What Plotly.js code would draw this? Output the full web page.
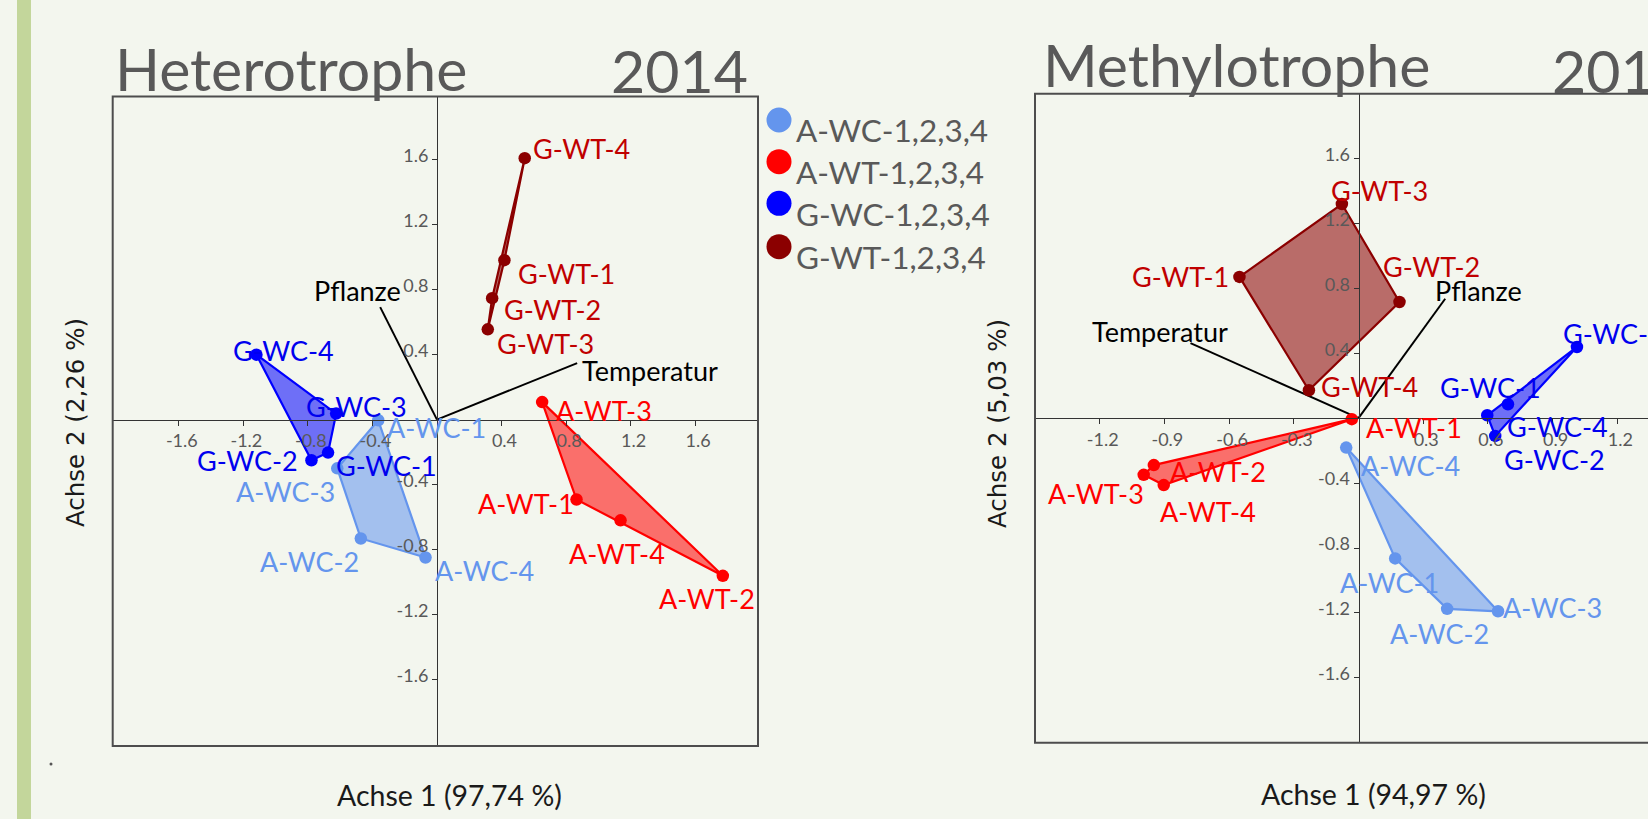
<!DOCTYPE html>
<html><head><meta charset="utf-8">
<script src="https://cdn.plot.ly/plotly-3.0.1.min.js"></script>
<style>html,body{margin:0;padding:0;overflow:hidden;background:#F3F6EE;}#chart{width:1700px;height:819px;}</style>
</head><body><div id="chart"></div>
<script>
// ---------------- DATA ----------------
const groupNames = ['A-WC', 'A-WT', 'G-WC', 'G-WT'];
const legendLabels = ['A-WC-1,2,3,4', 'A-WT-1,2,3,4', 'G-WC-1,2,3,4', 'G-WT-1,2,3,4'];
const replicates = ['1', '2', '3', '4'];
const panelTitles = ['Heterotrophe', 'Methylotrophe'];
const panelYear = '2014';
const axisTitlesX = ['Achse 1 (97,74 %)', 'Achse 1 (94,97 %)'];
const axisTitlesY = ['Achse 2 (2,26 %)', 'Achse 2 (5,03 %)'];
const vectorNames = ['Pflanze', 'Temperatur'];

// Heterotrophe 2014 (replicates 1..4)
const hetAWCx = [-0.364, -0.472, -0.618, -0.071];
const hetAWCy = [-0.004, -0.732, -0.300, -0.849];
const hetAWTx = [0.865, 1.772, 0.652, 1.138];
const hetAWTy = [-0.492, -0.962, 0.108, -0.620];
const hetGWCx = [-0.675, -0.778, -0.625, -1.119];
const hetGWCy = [-0.203, -0.250, 0.037, 0.400];
const hetGWTx = [0.418, 0.342, 0.315, 0.544];
const hetGWTy = [0.982, 0.748, 0.556, 1.610];
const hetVecX = [-0.352, 0.869];
const hetVecY = [0.693, 0.348];

// Methylotrophe 2014 (replicates 1..4)
const metAWCx = [0.170, 0.411, 0.647, -0.057];
const metAWCy = [-0.864, -1.175, -1.190, -0.181];
const metAWTx = [-0.031, -0.949, -0.996, -0.903];
const metAWTy = [-0.006, -0.289, -0.349, -0.412];
const metGWCx = [0.693, 0.634, 1.013, 0.597];
const metGWCy = [0.086, -0.109, 0.439, 0.018];
const metGWTx = [-0.552, 0.190, -0.077, -0.230];
const metGWTy = [0.871, 0.716, 1.320, 0.172];
const metVecX = [0.402, -0.779];
const metVecY = [0.736, 0.463];

// Tick values / labels
const hetTickX = [-1.6, -1.2, -0.8, -0.4, 0.4, 0.8, 1.2, 1.6];
const hetTickY = [-1.6, -1.2, -0.8, -0.4, 0.4, 0.8, 1.2, 1.6];
const metTickX = [-1.2, -0.9, -0.6, -0.3, 0.3, 0.6, 0.9, 1.2];
const metTickY = [-1.6, -1.2, -0.8, -0.4, 0.4, 0.8, 1.2, 1.6];

// ---------------- STYLE / POSITIONS ----------------
const W = 1700, H = 819;
const BG = '#F3F6EE';
const markerColors = {'A-WC': '#6495ED', 'A-WT': '#FF0000', 'G-WC': '#0000FF', 'G-WT': '#8B0000'};
const labelColors = {'A-WC': '#6495ED', 'A-WT': '#FF0000', 'G-WC': '#0000EE', 'G-WT': '#C00000'};
const fillColors = {'A-WC': 'rgba(100,149,237,0.56)', 'A-WT': 'rgba(255,0,0,0.55)', 'G-WC': 'rgba(0,0,255,0.55)', 'G-WT': 'rgba(139,0,0,0.56)'};
const FONT = 'Lato, "Open Sans", sans-serif';

// label placement: [xanchor, xshift px, yshift px] per replicate
const hetLabelPos = {
  'A-WC': [['left', 7, -7], ['right', 0, -23], ['right', 0, -23], ['left', 7, -13]],
  'A-WT': [['right', -1, -4], ['left', -66, -23], ['left', 12, -8], ['left', -54, -33]],
  'G-WC': [['left', 6, -13], ['right', -11, 0], ['left', -32, 7], ['left', -25, 4]],
  'G-WT': [['left', 12, -13], ['left', 10, -11], ['left', 7, -14], ['left', 6, 10]]
};
const hetVecPos = [['right', 23, 17], ['left', 3, -7]];
const metLabelPos = {
  'A-WC': [['left', -57, -24], ['left', -59, -25], ['left', 3, 4], ['left', 13, -18]],
  'A-WT': [['left', 12, -8], ['left', 14, -6], ['right', 2, -19], ['left', -6, -26]],
  'G-WC': [['left', -70, 17], ['left', 7, -24], ['left', -16, 13], ['left', 18, -11]],
  'G-WT': [['right', -8, 0], ['left', -18, 36], ['left', -13, 14], ['left', 10, 4]]
};
const metVecPos = [['left', -12, 8], ['left', -101, 12]];

const px = v => v / W;
const py = v => 1 - v / H;

const panels = [
  {xa: 'x', ya: 'y', xdomPx: [112.7, 758], ydomPx: [96.5, 746], xr: [-2.01, 1.99], yr: [-2.01, 1.99],
   tx: hetTickX, ty: hetTickY,
   groups: {'A-WC': [hetAWCx, hetAWCy], 'A-WT': [hetAWTx, hetAWTy], 'G-WC': [hetGWCx, hetGWCy], 'G-WT': [hetGWTx, hetGWTy]},
   vx: hetVecX, vy: hetVecY, lpos: hetLabelPos, vpos: hetVecPos},
  {xa: 'x2', ya: 'y2', xdomPx: [1035, 1682], ydomPx: [93.7, 742.7], xr: [-1.5, 1.5], yr: [-2.0, 2.0],
   tx: metTickX, ty: metTickY,
   groups: {'A-WC': [metAWCx, metAWCy], 'A-WT': [metAWTx, metAWTy], 'G-WC': [metGWCx, metGWCy], 'G-WT': [metGWTx, metGWTy]},
   vx: metVecX, vy: metVecY, lpos: metLabelPos, vpos: metVecPos}
];

function hull(pts) {
  const p = pts.slice().sort((a, b) => a[0] - b[0] || a[1] - b[1]);
  const cross = (o, a, b) => (a[0] - o[0]) * (b[1] - o[1]) - (a[1] - o[1]) * (b[0] - o[0]);
  const lower = [], upper = [];
  for (const q of p) { while (lower.length >= 2 && cross(lower[lower.length - 2], lower[lower.length - 1], q) <= 0) lower.pop(); lower.push(q); }
  for (let i = p.length - 1; i >= 0; i--) { const q = p[i]; while (upper.length >= 2 && cross(upper[upper.length - 2], upper[upper.length - 1], q) <= 0) upper.pop(); upper.push(q); }
  upper.pop(); lower.pop();
  return lower.concat(upper);
}
const fmt = v => String(v);

const traces = [], annotations = [], shapes = [];
const layout = {
  width: W, height: H, margin: {l: 0, r: 0, t: 0, b: 0},
  paper_bgcolor: BG, plot_bgcolor: 'rgba(0,0,0,0)', showlegend: false,
  font: {family: FONT}, hovermode: false
};

// green side bar + dot
shapes.push({type: 'rect', xref: 'paper', yref: 'paper', x0: px(17), x1: px(31), y0: 0, y1: 1, fillcolor: '#C3D69B', line: {width: 0}, layer: 'below'});
shapes.push({type: 'circle', xref: 'paper', yref: 'paper', x0: px(49.5), x1: px(52.5), y0: py(765.5), y1: py(762.5), fillcolor: '#555', line: {width: 0}});

panels.forEach((P, pi) => {
  const xdom = [px(P.xdomPx[0]), px(P.xdomPx[1])];
  const ydom = [py(P.ydomPx[1]), py(P.ydomPx[0])];
  const xpos = xdom[0] + (0 - P.xr[0]) / (P.xr[1] - P.xr[0]) * (xdom[1] - xdom[0]);
  const ypos = ydom[0] + (0 - P.yr[0]) / (P.yr[1] - P.yr[0]) * (ydom[1] - ydom[0]);
  const sfx = pi === 0 ? '' : '2';
  const common = {showgrid: false, zeroline: false, showline: true, linecolor: '#333', linewidth: 1.2,
    ticks: 'outside', ticklen: 5, tickwidth: 1, tickcolor: '#333', fixedrange: true,
    tickfont: {family: FONT, size: 18, color: '#595959'}, anchor: 'free'};
  layout['xaxis' + sfx] = Object.assign({}, common, {domain: xdom, range: P.xr, position: ypos,
    tickvals: P.tx, ticktext: P.tx.map(fmt), ticklabelshift: 3});
  layout['yaxis' + sfx] = Object.assign({}, common, {domain: ydom, range: P.yr, position: xpos,
    tickvals: P.ty, ticktext: P.ty.map(fmt), ticklabelshift: -4});

  // frame
  shapes.push({type: 'rect', xref: P.xa + ' domain', yref: P.ya + ' domain', x0: 0, x1: 1, y0: 0, y1: 1,
    line: {color: '#4d4d4d', width: 2}, fillcolor: 'rgba(0,0,0,0)'});

  // vectors
  vectorNames.forEach((nm, i) => {
    traces.push({x: [0, P.vx[i]], y: [0, P.vy[i]], mode: 'lines', line: {color: '#000', width: 2},
      xaxis: P.xa, yaxis: P.ya, hoverinfo: 'skip'});
    const pos = P.vpos[i];
    annotations.push({x: P.vx[i], y: P.vy[i], xref: P.xa, yref: P.ya, text: nm, showarrow: false,
      xanchor: pos[0], yanchor: 'middle', xshift: pos[1], yshift: pos[2],
      font: {family: FONT, size: 27, color: '#000'}});
  });

  // groups
  groupNames.forEach(g => {
    const [gx, gy] = P.groups[g];
    const pts = gx.map((v, i) => [v, gy[i]]);
    const h = hull(pts); h.push(h[0]);
    traces.push({x: h.map(q => q[0]), y: h.map(q => q[1]), mode: 'lines', fill: 'toself',
      fillcolor: fillColors[g], line: {color: markerColors[g], width: 2.2}, xaxis: P.xa, yaxis: P.ya, hoverinfo: 'skip'});
    traces.push({x: gx, y: gy, mode: 'markers', marker: {size: 12.5, color: markerColors[g]},
      xaxis: P.xa, yaxis: P.ya, hoverinfo: 'skip'});
    replicates.forEach((r, i) => {
      const pos = P.lpos[g][i];
      annotations.push({x: gx[i], y: gy[i], xref: P.xa, yref: P.ya, text: g + '-' + r, showarrow: false,
        xanchor: pos[0], yanchor: 'middle', xshift: pos[1], yshift: pos[2],
        font: {family: FONT, size: 27, color: labelColors[g]}});
    });
  });
});

// titles
const titleFont = {family: FONT, size: 59, color: '#595959', weight: 400};
annotations.push({xref: 'paper', yref: 'paper', x: px(113), y: py(68.5), xanchor: 'left', yanchor: 'middle', text: panelTitles[0], showarrow: false, font: titleFont});
annotations.push({xref: 'paper', yref: 'paper', x: px(750), y: py(70.5), xanchor: 'right', yanchor: 'middle', text: panelYear, showarrow: false, font: titleFont});
annotations.push({xref: 'paper', yref: 'paper', x: px(1041), y: py(65), xanchor: 'left', yanchor: 'middle', text: panelTitles[1], showarrow: false, font: titleFont});
annotations.push({xref: 'paper', yref: 'paper', x: px(1550), y: py(70.5), xanchor: 'left', yanchor: 'middle', text: panelYear, showarrow: false, font: titleFont});

// axis titles
const axFont = {family: FONT, size: 28.5, color: '#1a1a1a'};
annotations.push({xref: 'paper', yref: 'paper', x: px(335), y: py(795), xanchor: 'left', yanchor: 'middle', text: axisTitlesX[0], showarrow: false, font: axFont});
annotations.push({xref: 'paper', yref: 'paper', x: px(1259), y: py(793.5), xanchor: 'left', yanchor: 'middle', text: axisTitlesX[1], showarrow: false, font: axFont});
const ayFont = {family: 'DejaVu Sans, Verdana, sans-serif', size: 24.5, color: '#1a1a1a'};
annotations.push({xref: 'paper', yref: 'paper', x: px(75), y: py(423), xanchor: 'center', yanchor: 'middle', textangle: -90, text: axisTitlesY[0], showarrow: false, font: ayFont});
annotations.push({xref: 'paper', yref: 'paper', x: px(997), y: py(423), xanchor: 'center', yanchor: 'middle', textangle: -90, text: axisTitlesY[1], showarrow: false, font: ayFont});

// legend (manual)
const legCircleY = [120, 161.7, 203.3, 246.7];
const legTextY = [130, 172, 214.5, 257];
groupNames.forEach((g, i) => {
  shapes.push({type: 'circle', xref: 'paper', yref: 'paper', x0: px(779 - 12.5), x1: px(779 + 12.5),
    y0: py(legCircleY[i] + 12.5), y1: py(legCircleY[i] - 12.5), fillcolor: markerColors[g], line: {width: 0}});
  annotations.push({xref: 'paper', yref: 'paper', x: px(794), y: py(legTextY[i]), xanchor: 'left', yanchor: 'middle',
    text: legendLabels[i], showarrow: false, font: {family: FONT, size: 31.5, color: '#595959'}});
});

layout.shapes = shapes;
layout.annotations = annotations;
Plotly.newPlot('chart', traces, layout, {staticPlot: true, displayModeBar: false});
</script></body></html>
